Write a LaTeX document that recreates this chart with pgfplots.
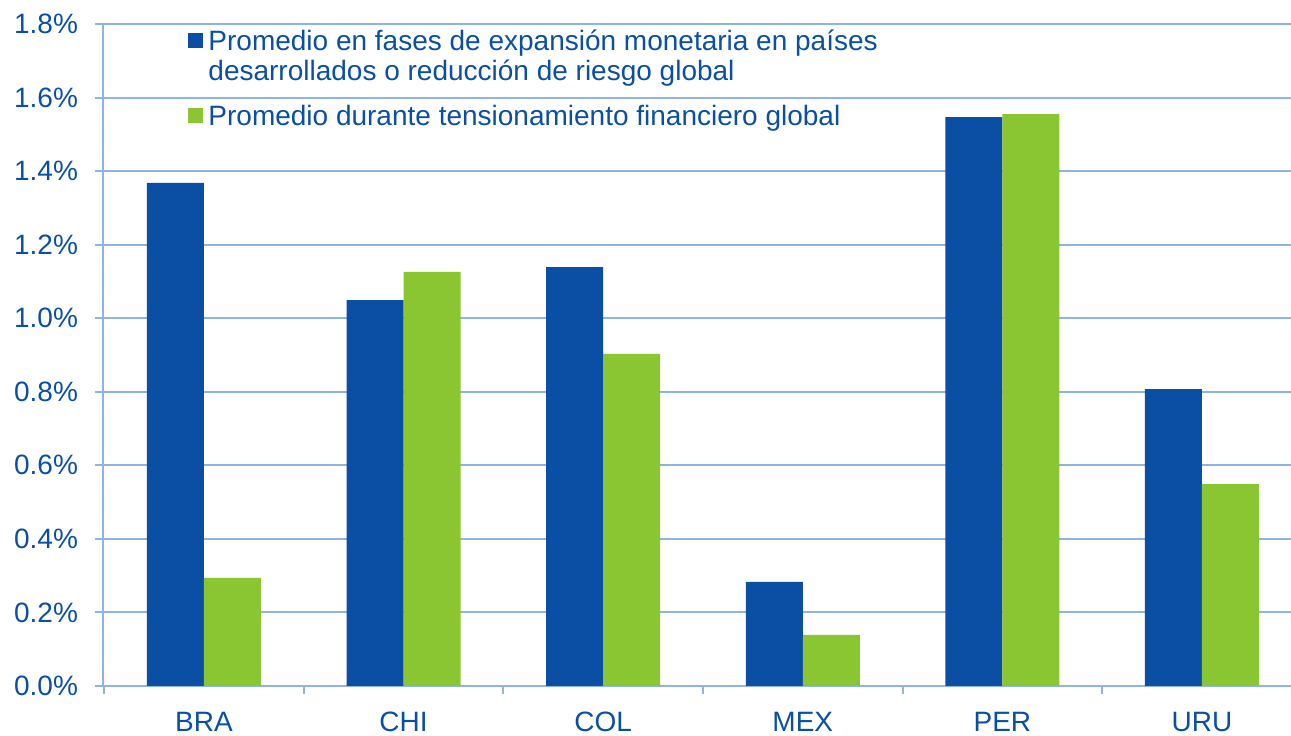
\documentclass[border=0pt]{standalone}
\usepackage{pgfplots}
\pgfplotsset{compat=1.18}
\usepackage{fontspec}
\setmainfont{Liberation Sans}
\definecolor{bcblue}{HTML}{0A4FA3}
\definecolor{bcgreen}{HTML}{8AC631}
\definecolor{gridblue}{HTML}{8DB4E2}

\begin{document}
\begin{tikzpicture}
\begin{axis}[
    name=ax,
    scale only axis,
    width=594pt, height=331pt,
    ybar=0pt, bar width=28.5pt,
    xmin=-0.506, xmax=5.446, ymin=0, ymax=1.8,
    axis lines*=left,
    axis line style={gridblue, line width=1pt},
    xtick={0,1,2,3,4,5},
    xticklabels={BRA,CHI,COL,MEX,PER,URU},
    major x tick style={draw=none},
    minor xtick={-0.5,0.5,1.5,2.5,3.5,4.5},
    ytick={0,0.2,0.4,0.6,0.8,1.0,1.2,1.4,1.6,1.8},
    yticklabels={0.0\%,0.2\%,0.4\%,0.6\%,0.8\%,1.0\%,1.2\%,1.4\%,1.6\%,1.8\%},
    ymajorgrids,
    grid style={gridblue, line width=1pt},
    tick style={gridblue, line width=1pt},
    tick align=outside,
    major tick length=4pt, minor tick length=4pt,
    ticklabel style={font=\fontsize{14}{17}\selectfont, text=bcblue},
    yticklabel style={xshift=-5pt},
    xticklabel style={yshift=-5.5pt},
    legend image code/.code={\fill[#1] (0pt,1.25pt) rectangle (7.5pt,8.75pt);},
    legend cell align=left,
    legend style={at={(0.0716,0.994)}, anchor=north west, draw=none, fill=none,
        inner sep=0pt, row sep=0pt, column sep=2.5pt,
        font=\fontsize{14}{17}\selectfont, text=bcblue,
        nodes={inner sep=0pt, text depth=5pt}, cells={anchor=base west}},
]
\addplot[draw=none, fill=bcblue, bar shift=-14.25pt] coordinates {(0,1.368) (1,1.049) (2,1.139) (3,0.283) (4,1.547) (5,0.807)};
\addlegendentry{\rule{0pt}{11pt}Promedio en fases de expansión monetaria en países}
\addlegendimage{empty legend}
\addlegendentry{\rule{0pt}{10pt}desarrollados o reducción de riesgo global}
\addplot[draw=none, fill=bcgreen, bar shift=14.25pt] coordinates {(0,0.294) (1,1.126) (2,0.903) (3,0.139) (4,1.555) (5,0.549)};
\addlegendentry{\rule{0pt}{17.5pt}Promedio durante tensionamiento financiero global}
\end{axis}
\pgfresetboundingbox
\path[use as bounding box] ([xshift=-51.5pt,yshift=-25pt]ax.south west) rectangle ([yshift=12pt]ax.north east);
\end{tikzpicture}
\end{document}
